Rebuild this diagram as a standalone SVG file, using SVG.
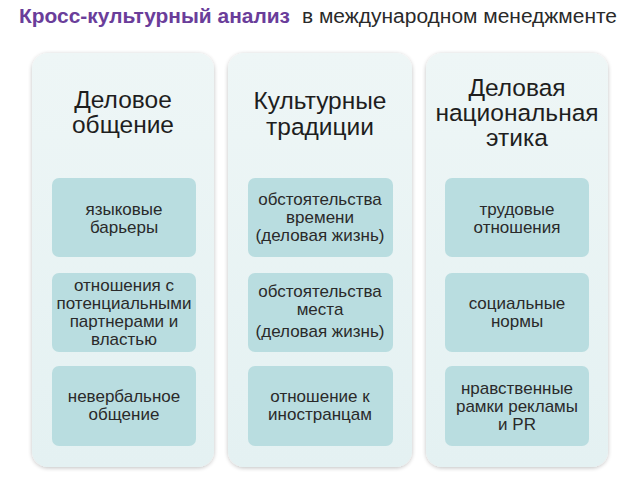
<svg xmlns="http://www.w3.org/2000/svg" width="640" height="480" viewBox="0 0 640 480">
<defs>
<linearGradient id="pg" x1="0" y1="0" x2="0" y2="1">
<stop offset="0" stop-color="#eef6f6"/>
<stop offset="1" stop-color="#e4f1f2"/>
</linearGradient>
<filter id="sh" x="-10%" y="-10%" width="120%" height="120%">
<feGaussianBlur in="SourceAlpha" stdDeviation="2"/>
<feOffset dx="0" dy="1"/>
<feComponentTransfer><feFuncA type="linear" slope="0.25"/></feComponentTransfer>
<feMerge><feMergeNode/><feMergeNode in="SourceGraphic"/></feMerge>
</filter>
</defs>
<style>
.panel{fill:url(#pg);filter:url(#sh)}
.box{fill:#b9dde0}
.h{font-family:"Liberation Sans",Arial,sans-serif;font-size:24.5px;fill:#1e1e1e;text-anchor:middle}
.t{font-family:"Liberation Sans",Arial,sans-serif;font-size:17px;fill:#2a2a2a;text-anchor:middle}
.title{font-family:"Liberation Sans",Arial,sans-serif;font-size:20px}
</style>
<rect width="640" height="480" fill="#ffffff"/>
<text class="title" x="19" y="23" font-size="21" font-weight="bold" fill="#6a3d9a" textLength="271" lengthAdjust="spacingAndGlyphs">Кросс-культурный анализ</text>
<text class="title" x="302" y="23" fill="#2a2a2a" textLength="315" lengthAdjust="spacingAndGlyphs">в международном менеджменте</text>

<g id="col1">
<rect class="panel" x="32" y="53" width="182" height="414" rx="16"/>
<text class="h" x="123" y="108">Деловое</text>
<text class="h" x="123" y="133">общение</text>
</g>
<g id="col1-b1"><rect class="box" x="52" y="178" width="144" height="79" rx="7"/>
<text class="t" x="124" y="215">языковые</text><text class="t" x="124" y="233">барьеры</text></g>
<g id="col1-b2"><rect class="box" x="52" y="273" width="144" height="79" rx="7"/>
<text class="t" x="124" y="291">отношения с</text><text class="t" x="124" y="309">потенциальными</text><text class="t" x="124" y="327">партнерами и</text><text class="t" x="124" y="345">властью</text></g>
<g id="col1-b3"><rect class="box" x="52" y="366" width="144" height="80" rx="7"/>
<text class="t" x="124" y="402">невербальное</text><text class="t" x="124" y="420">общение</text></g>

<g id="col2">
<rect class="panel" x="228" y="53" width="184" height="414" rx="16"/>
<text class="h" x="320" y="109">Культурные</text>
<text class="h" x="320" y="135">традиции</text>
</g>
<g id="col2-b1"><rect class="box" x="248" y="178" width="145" height="79" rx="7"/>
<text class="t" x="320" y="205">обстоятельства</text><text class="t" x="320" y="223">времени</text><text class="t" x="320" y="241">(деловая жизнь)</text></g>
<g id="col2-b2"><rect class="box" x="248" y="273" width="145" height="79" rx="7"/>
<text class="t" x="320" y="297">обстоятельства</text><text class="t" x="320" y="315">места</text><text class="t" x="320" y="337">(деловая жизнь)</text></g>
<g id="col2-b3"><rect class="box" x="248" y="366" width="145" height="80" rx="7"/>
<text class="t" x="320" y="402">отношение к</text><text class="t" x="320" y="420">иностранцам</text></g>

<g id="col3">
<rect class="panel" x="426" y="53" width="182" height="414" rx="16"/>
<text class="h" x="517" y="96">Деловая</text>
<text class="h" x="517" y="121">национальная</text>
<text class="h" x="517" y="146">этика</text>
</g>
<g id="col3-b1"><rect class="box" x="445" y="178" width="144" height="79" rx="7"/>
<text class="t" x="517" y="215">трудовые</text><text class="t" x="517" y="233">отношения</text></g>
<g id="col3-b2"><rect class="box" x="445" y="273" width="144" height="79" rx="7"/>
<text class="t" x="517" y="309">социальные</text><text class="t" x="517" y="327">нормы</text></g>
<g id="col3-b3"><rect class="box" x="445" y="366" width="144" height="80" rx="7"/>
<text class="t" x="517" y="394">нравственные</text><text class="t" x="517" y="412">рамки рекламы</text><text class="t" x="517" y="430">и PR</text></g>

<g id="connectors"></g>
</svg>
